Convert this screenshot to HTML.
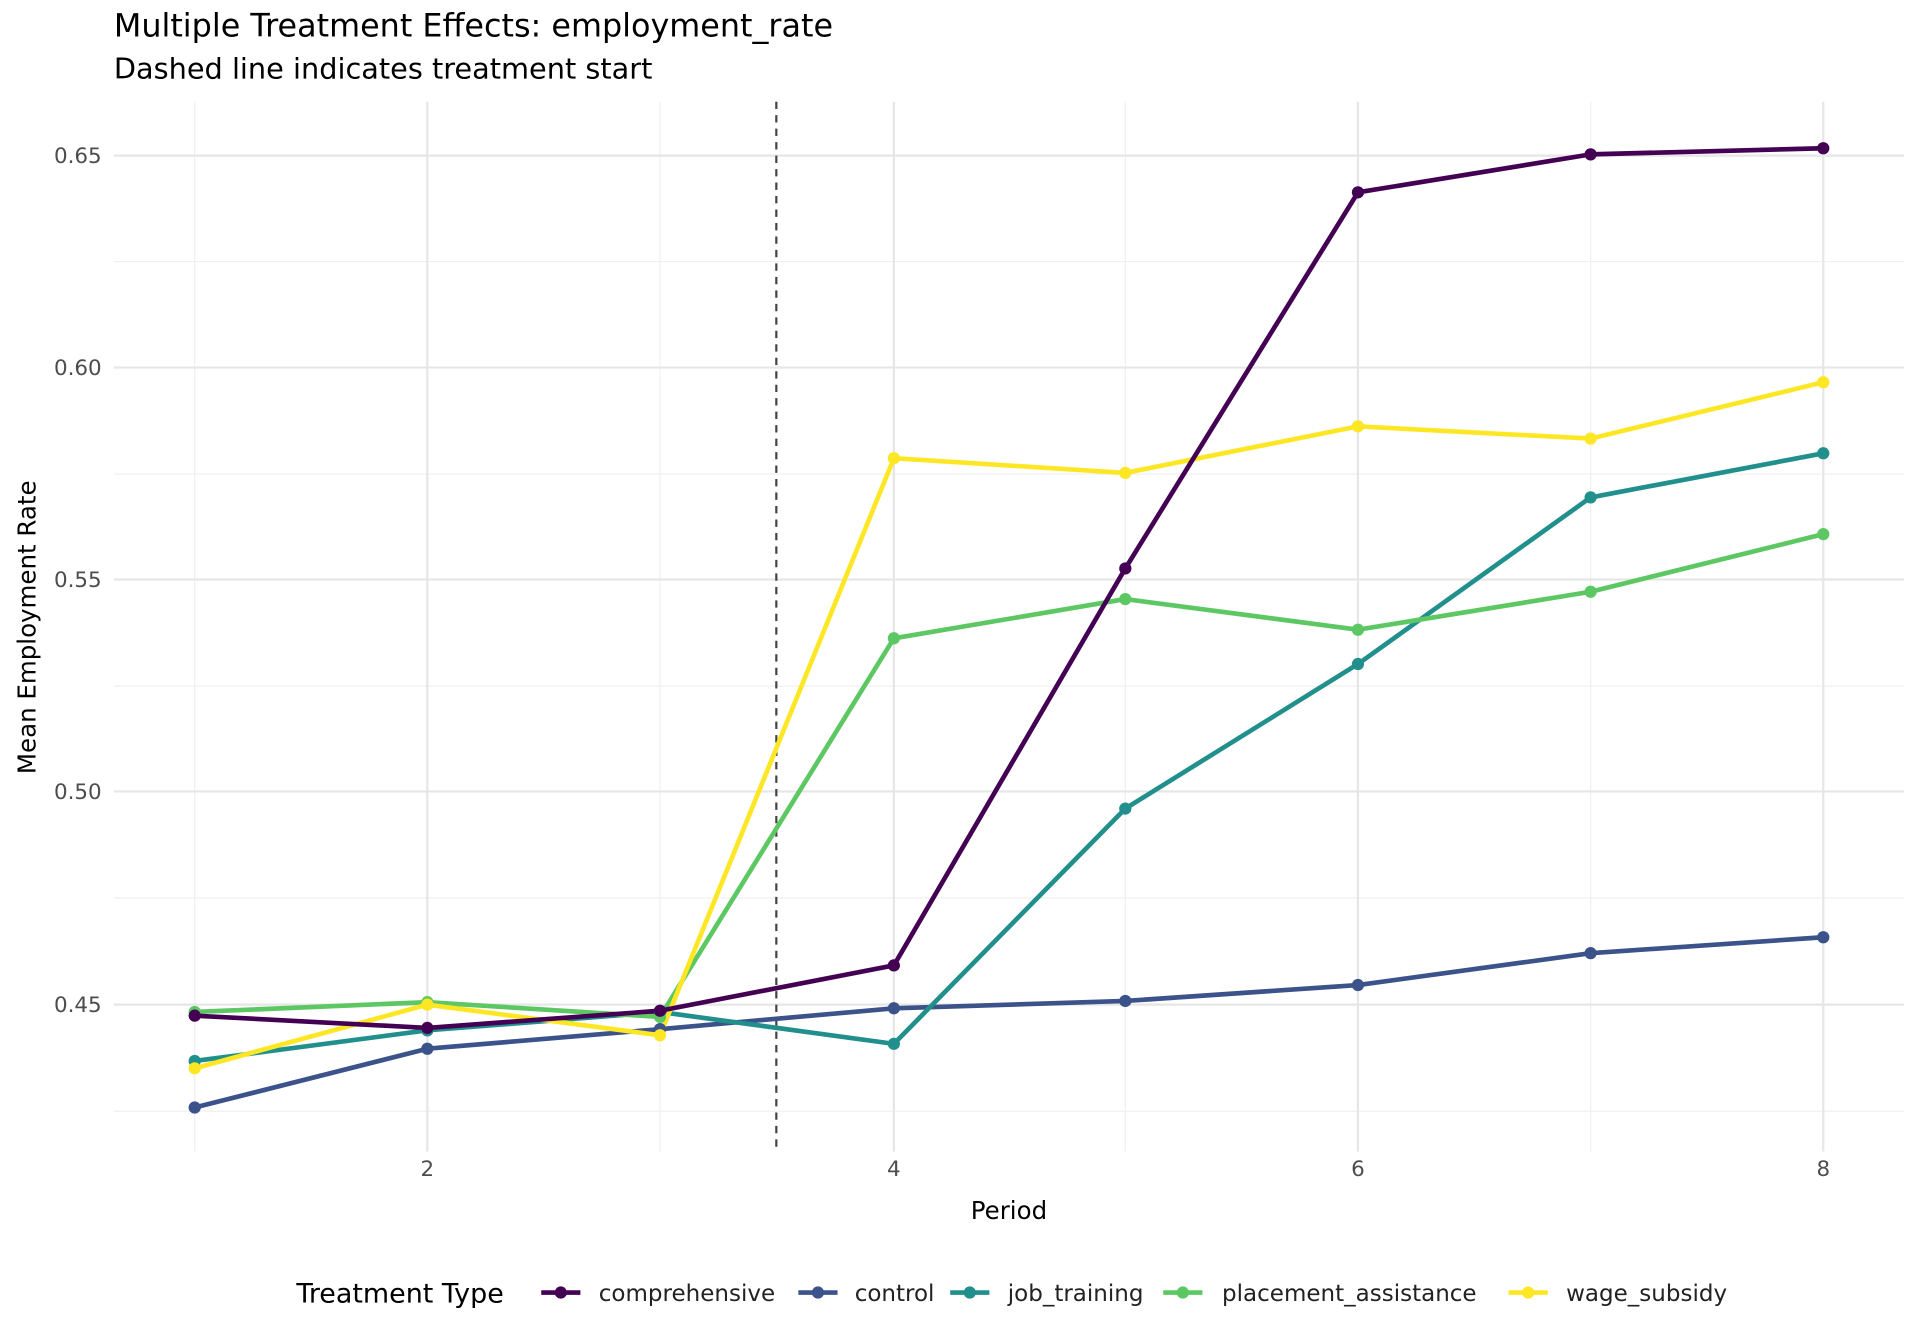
<!DOCTYPE html>
<html><head><meta charset="utf-8"><style>
html,body{margin:0;padding:0;background:#fff;}
svg{display:block;}
text{font-family:"DejaVu Sans","Liberation Sans",sans-serif;}
</style></head><body>
<svg width="1920" height="1344" viewBox="0 0 1568 1097" preserveAspectRatio="none" xmlns="http://www.w3.org/2000/svg">
<rect width="1568" height="1097" fill="#fff"/>
<g stroke="#f0f0f0" stroke-width="1">
<line x1="93" x2="1555" y1="213.5" y2="213.5"/><line x1="93" x2="1555" y1="387" y2="387"/>
<line x1="93" x2="1555" y1="560" y2="560"/><line x1="93" x2="1555" y1="733" y2="733"/>
<line x1="93" x2="1555" y1="907" y2="907"/>
<line x1="159" x2="159" y1="83" y2="940"/><line x1="539" x2="539" y1="83" y2="940"/>
<line x1="919" x2="919" y1="83" y2="940"/><line x1="1299" x2="1299" y1="83" y2="940"/>
</g>
<g stroke="#e6e6e6" stroke-width="1.8">
<line x1="93" x2="1555" y1="127" y2="127"/><line x1="93" x2="1555" y1="300" y2="300"/>
<line x1="93" x2="1555" y1="473" y2="473"/><line x1="93" x2="1555" y1="646" y2="646"/>
<line x1="93" x2="1555" y1="820" y2="820"/>
<line x1="349" x2="349" y1="83" y2="940"/><line x1="730" x2="730" y1="83" y2="940"/>
<line x1="1109" x2="1109" y1="83" y2="940"/><line x1="1489" x2="1489" y1="83" y2="940"/>
</g>
<line x1="634" x2="634" y1="83" y2="940" stroke="#444" stroke-width="1.8" stroke-dasharray="6,5"/>
<g fill="none" stroke-width="3.8" stroke-linejoin="round">
<polyline stroke="#3B528B" points="159,904 349,856 539,840 730,823 919,817 1109,804 1299,778 1489,765"/>
<polyline stroke="#21908C" points="159,866 349,841 539,826 730,852 919,660 1109,542 1299,406 1489,370"/>
<polyline stroke="#5DC863" points="159,826 349,818 539,830 730,521 919,489 1109,514 1299,483 1489,436"/>
<polyline stroke="#FDE725" points="159,872 349,820 539,845 730,374 919,386 1109,348 1299,358 1489,312"/>
<polyline stroke="#440154" points="159,829 349,839 539,825 730,788 919,464 1109,157 1299,126 1489,121"/>
</g>
<g fill="#3B528B"><circle cx="159" cy="904" r="5"/><circle cx="349" cy="856" r="5"/><circle cx="539" cy="840" r="5"/><circle cx="730" cy="823" r="5"/><circle cx="919" cy="817" r="5"/><circle cx="1109" cy="804" r="5"/><circle cx="1299" cy="778" r="5"/><circle cx="1489" cy="765" r="5"/></g>
<g fill="#21908C"><circle cx="159" cy="866" r="5"/><circle cx="349" cy="841" r="5"/><circle cx="539" cy="826" r="5"/><circle cx="730" cy="852" r="5"/><circle cx="919" cy="660" r="5"/><circle cx="1109" cy="542" r="5"/><circle cx="1299" cy="406" r="5"/><circle cx="1489" cy="370" r="5"/></g>
<g fill="#5DC863"><circle cx="159" cy="826" r="5"/><circle cx="349" cy="818" r="5"/><circle cx="539" cy="830" r="5"/><circle cx="730" cy="521" r="5"/><circle cx="919" cy="489" r="5"/><circle cx="1109" cy="514" r="5"/><circle cx="1299" cy="483" r="5"/><circle cx="1489" cy="436" r="5"/></g>
<g fill="#FDE725"><circle cx="159" cy="872" r="5"/><circle cx="349" cy="820" r="5"/><circle cx="539" cy="845" r="5"/><circle cx="730" cy="374" r="5"/><circle cx="919" cy="386" r="5"/><circle cx="1109" cy="348" r="5"/><circle cx="1299" cy="358" r="5"/><circle cx="1489" cy="312" r="5"/></g>
<g fill="#440154"><circle cx="159" cy="829" r="5"/><circle cx="349" cy="839" r="5"/><circle cx="539" cy="825" r="5"/><circle cx="730" cy="788" r="5"/><circle cx="919" cy="464" r="5"/><circle cx="1109" cy="157" r="5"/><circle cx="1299" cy="126" r="5"/><circle cx="1489" cy="121" r="5"/></g>
<g font-size="17.5" fill="#4d4d4d" text-anchor="end">
<text x="83" y="133">0.65</text><text x="83" y="306">0.60</text><text x="83" y="479">0.55</text><text x="83" y="652">0.50</text><text x="83" y="826">0.45</text>
</g>
<g font-size="17.5" fill="#4d4d4d" text-anchor="middle">
<text x="349" y="960">2</text><text x="730" y="960">4</text><text x="1109" y="960">6</text><text x="1489" y="960">8</text>
</g>
<text x="824" y="995" font-size="20" text-anchor="middle">Period</text>
<text transform="translate(29,512) rotate(-90)" font-size="20" text-anchor="middle">Mean Employment Rate</text>
<text x="93" y="30" font-size="26">Multiple Treatment Effects: employment_rate</text>
<text x="93" y="64" font-size="23.5">Dashed line indicates treatment start</text>
<text x="242" y="1063" font-size="22">Treatment Type</text>
<g stroke-width="3.8">
<line x1="442" x2="474" y1="1055" y2="1055" stroke="#440154"/><circle cx="458" cy="1055" r="5" fill="#440154"/>
<line x1="652" x2="684" y1="1055" y2="1055" stroke="#3B528B"/><circle cx="668" cy="1055" r="5" fill="#3B528B"/>
<line x1="776" x2="808" y1="1055" y2="1055" stroke="#21908C"/><circle cx="792" cy="1055" r="5" fill="#21908C"/>
<line x1="950" x2="982" y1="1055" y2="1055" stroke="#5DC863"/><circle cx="966" cy="1055" r="5" fill="#5DC863"/>
<line x1="1232" x2="1264" y1="1055" y2="1055" stroke="#FDE725"/><circle cx="1248" cy="1055" r="5" fill="#FDE725"/>
</g>
<g font-size="18.8" fill="#222">
<text x="489" y="1062">comprehensive</text><text x="698" y="1062">control</text><text x="823" y="1062">job_training</text><text x="998" y="1062">placement_assistance</text><text x="1279" y="1062">wage_subsidy</text>
</g>
</svg>
</body></html>
